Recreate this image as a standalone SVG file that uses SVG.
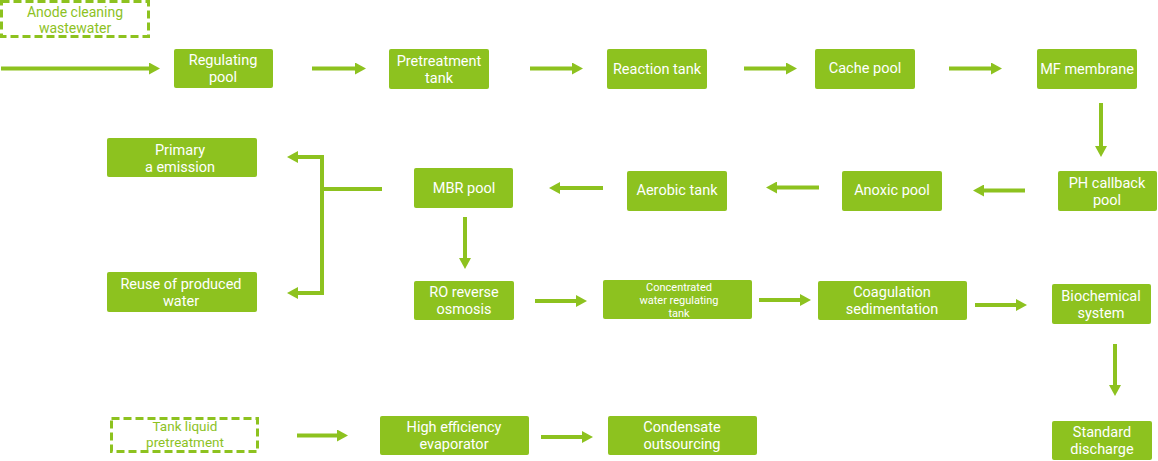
<svg xmlns="http://www.w3.org/2000/svg" width="1158" height="461" viewBox="0 0 1158 461">
<defs>
<style>
.box{fill:#8dc21f;}
.dash{fill:none;stroke:#8dc21f;stroke-width:3;stroke-dasharray:8 4;}
.t{font-family:Roboto,"Liberation Sans",sans-serif;font-size:14.5px;fill:#ffffff;text-anchor:middle;}
.ts{font-family:Roboto,"Liberation Sans",sans-serif;font-size:11px;fill:#ffffff;text-anchor:middle;}
.tg{font-family:Roboto,"Liberation Sans",sans-serif;font-size:14px;fill:#8dc21f;text-anchor:middle;}
.c{fill:none;stroke:#8dc21f;stroke-width:4;}
.a{fill:none;stroke:#8dc21f;stroke-width:4;marker-end:url(#ah);}
</style>
<marker id="ah" markerUnits="userSpaceOnUse" markerWidth="12" markerHeight="12" refX="1" refY="6" orient="auto" viewBox="0 0 12 12">
<path d="M0,0 L11,6 L0,12 z" fill="#8dc21f"/>
</marker>
</defs>
<rect width="1158" height="461" fill="#ffffff"/>

<g id="anode">
<rect class="dash" x="1.5" y="1.5" width="147" height="35"/>
<text class="tg"><tspan x="75" y="16.5">Anode cleaning</tspan><tspan x="75" y="33">wastewater</tspan></text>
</g>
<g id="regulating"><rect class="box" x="174" y="49" width="99" height="39" rx="2"/><text class="t"><tspan x="223" y="65">Regulating</tspan><tspan x="223" y="82">pool</tspan></text></g>
<g id="pretreatment"><rect class="box" x="389" y="49" width="100" height="40" rx="2"/><text class="t"><tspan x="439" y="65.5">Pretreatment</tspan><tspan x="439" y="82.5">tank</tspan></text></g>
<g id="reaction"><rect class="box" x="607" y="49" width="100" height="40" rx="2"/><text class="t" x="657" y="74">Reaction tank</text></g>
<g id="cache"><rect class="box" x="815" y="49" width="100" height="40" rx="2"/><text class="t" x="865" y="73">Cache pool</text></g>
<g id="mf"><rect class="box" x="1037" y="49" width="100" height="40" rx="2"/><text class="t" x="1087" y="74">MF membrane</text></g>

<g id="ph"><rect class="box" x="1058" y="171" width="99" height="40" rx="2"/><text class="t"><tspan x="1107" y="187.5">PH callback</tspan><tspan x="1107" y="204.5">pool</tspan></text></g>
<g id="anoxic"><rect class="box" x="842" y="171" width="100" height="40" rx="2"/><text class="t" x="892" y="195">Anoxic pool</text></g>
<g id="aerobic"><rect class="box" x="627" y="171" width="100" height="40" rx="2"/><text class="t" x="677" y="195">Aerobic tank</text></g>
<g id="mbr"><rect class="box" x="414" y="168" width="99" height="40" rx="2"/><text class="t" x="464" y="193">MBR pool</text></g>
<g id="primary"><rect class="box" x="107" y="138" width="150" height="39" rx="2"/><text class="t"><tspan x="180" y="155">Primary</tspan><tspan x="180" y="172">a emission</tspan></text></g>
<g id="reuse"><rect class="box" x="107" y="272" width="150" height="40" rx="2"/><text class="t"><tspan x="181" y="288.5">Reuse of produced</tspan><tspan x="181" y="305.5">water</tspan></text></g>

<g id="ro"><rect class="box" x="414" y="281" width="100" height="39" rx="2"/><text class="t"><tspan x="464" y="297">RO reverse</tspan><tspan x="464" y="314">osmosis</tspan></text></g>
<g id="concentrated"><rect class="box" x="603" y="280" width="149" height="39" rx="2"/><text class="ts"><tspan x="679" y="291">Concentrated</tspan><tspan x="679" y="304">water regulating</tspan><tspan x="679" y="317">tank</tspan></text></g>
<g id="coagulation"><rect class="box" x="818" y="281" width="149" height="39" rx="2"/><text class="t"><tspan x="892" y="297">Coagulation</tspan><tspan x="892" y="314">sedimentation</tspan></text></g>
<g id="biochemical"><rect class="box" x="1052" y="284" width="99" height="40" rx="2"/><text class="t"><tspan x="1101" y="300.5">Biochemical</tspan><tspan x="1101" y="317.5">system</tspan></text></g>
<g id="standard"><rect class="box" x="1052" y="421" width="100" height="39" rx="2"/><text class="t"><tspan x="1102" y="437">Standard</tspan><tspan x="1102" y="454">discharge</tspan></text></g>

<g id="tankliquid">
<rect class="dash" x="111.5" y="418.5" width="146" height="33"/>
<text class="tg" style="font-size:13.5px"><tspan x="185" y="431">Tank liquid</tspan><tspan x="185" y="447">pretreatment</tspan></text>
</g>
<g id="evaporator"><rect class="box" x="380" y="416" width="149" height="39" rx="2"/><text class="t"><tspan x="454" y="432">High efficiency</tspan><tspan x="454" y="449">evaporator</tspan></text></g>
<g id="condensate"><rect class="box" x="608" y="416" width="149" height="39" rx="2"/><text class="t"><tspan x="682" y="432">Condensate</tspan><tspan x="682" y="449">outsourcing</tspan></text></g>

<g id="connectors">
<line class="a" x1="1" y1="68.5" x2="150" y2="68.5"/>
<line class="a" x1="312" y1="68.5" x2="356" y2="68.5"/>
<line class="a" x1="530" y1="68.5" x2="573" y2="68.5"/>
<line class="a" x1="744" y1="68.5" x2="787" y2="68.5"/>
<line class="a" x1="949" y1="68.5" x2="992" y2="68.5"/>
<line class="a" x1="1101" y1="103" x2="1101" y2="147"/>
<line class="a" x1="1025" y1="190.5" x2="983" y2="190.5"/>
<line class="a" x1="819" y1="187.5" x2="776" y2="187.5"/>
<line class="a" x1="603" y1="188" x2="559" y2="188"/>
<line class="c" x1="382" y1="189" x2="322" y2="189"/>
<polyline class="c" points="297,157 322,157 322,293 297,293"/>
<line class="a" x1="299" y1="157" x2="297" y2="157"/>
<line class="a" x1="299" y1="293" x2="297" y2="293"/>
<line class="a" x1="465" y1="217" x2="465" y2="259"/>
<line class="a" x1="535" y1="301" x2="577" y2="301"/>
<line class="a" x1="759" y1="300" x2="801" y2="300"/>
<line class="a" x1="975" y1="305" x2="1017" y2="305"/>
<line class="a" x1="1115" y1="344" x2="1115" y2="386"/>
<line class="a" x1="297" y1="435.5" x2="338" y2="435.5"/>
<line class="a" x1="541" y1="437" x2="583" y2="437"/>
</g>
</svg>
